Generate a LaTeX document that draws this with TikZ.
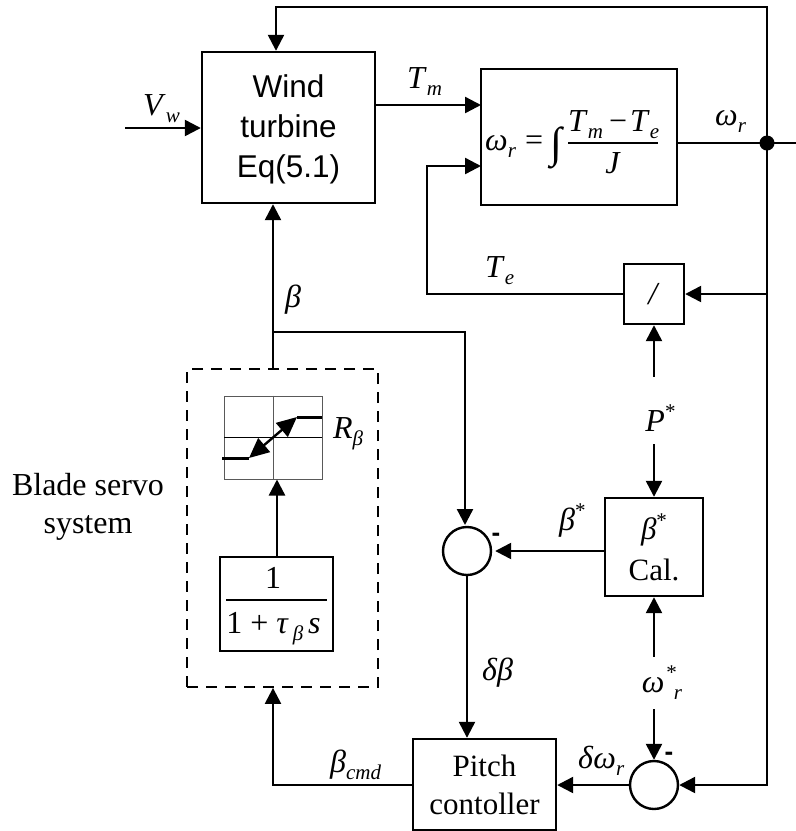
\documentclass[tikz,border=0pt]{standalone}
\usepackage{fontspec}
\setmainfont{Liberation Serif}
\newfontfamily\arialfont{Liberation Sans}
\usetikzlibrary{arrows.meta,calc}
\newcommand{\mainsz}{\fontsize{32}{38}\selectfont}
\newcommand{\subsz}{\fontsize{21}{24}\selectfont}
\newcommand{\lab}[2]{\textit{#1}\raisebox{-.22em}{\subsz\textit{#2}}}
\newcommand{\labsup}[1]{\textit{#1}\raisebox{.39em}{\subsz *}}
% width, numerator, gap to rule, denominator, gap from rule
\newcommand{\stackfrac}[5]{\vbox{\offinterlineskip\hsize=#1\hbox to #1{\hfil\smash{#2}\hfil}\kern#3\hrule height 2pt\kern#5\hbox to #1{\hfil\smash{#4}\hfil}}}
\tikzset{
  wire/.style={line width=2.4pt,line cap=butt},
  arr/.style={wire,-{Triangle[length=16pt,width=16pt]}},
  blockbox/.style={draw,line width=2.4pt,inner sep=0pt,align=center},
  sumnode/.style={draw,circle,line width=2.4pt,minimum size=48pt,inner sep=0pt},
  lbl/.style={inner sep=0pt,font=\mainsz,anchor=base west},
  minussign/.style={inner sep=0pt,font=\arialfont\bfseries\fontsize{26}{26}\selectfont}
}
\begin{document}
\begin{tikzpicture}[x=1pt,y=-1pt,font=\mainsz]
\useasboundingbox (0,0) rectangle (796,831);
% blocks
\node[blockbox,minimum width=173pt,minimum height=151pt,font=\arialfont\fontsize{31.5}{40}\selectfont] (wt) at (288.5,127.5) {\rule{0pt}{27pt}Wind\\turbine\\Eq(5.1)};
\node[blockbox,minimum width=196pt,minimum height=136pt] (wbox) at (579,137) {};
\node[lbl] (wtext) at (485,173) {\makebox[40pt][l]{\raisebox{23pt}{\lab{ω}{r}}}\makebox[25pt][l]{\raisebox{23pt}{=}}\makebox[18pt][l]{\raisebox{16pt}{\fontsize{43}{43}\selectfont ∫}}\stackfrac{90pt}{\lab{T}{m}\hspace{6pt}−\hspace{3pt}\lab{T}{e}\hspace{4pt}}{11pt}{\textit{J}}{29pt}};
\node[blockbox,minimum width=60pt,minimum height=60pt] (div) at (654,294) {\textit{/}};
\node[blockbox,minimum width=98pt,minimum height=98pt,font=\fontsize{31}{41}\selectfont] (cal) at (654,547) {\labsup{β}\\Cal.};
\node[sumnode] (sum1) at (467,551) {};
\node[sumnode] (sum2) at (654,785) {};
\node[blockbox,minimum width=143pt,minimum height=91pt,font=\fontsize{31}{38}\selectfont] (pitch) at (484.5,784.5) {Pitch\\contoller};
\node[draw,line width=1.8pt,dash pattern=on 11pt off 8pt,minimum width=191pt,minimum height=318pt,inner sep=0pt] (servo) at (282.5,528) {};
\node[draw,gray!70!black,line width=1pt,minimum width=98pt,minimum height=83pt,inner sep=0pt] (scope) at (273,437.5) {};
\node[blockbox,minimum width=113pt,minimum height=94pt] (tf) at (276.5,604) {};
\node[inner sep=0pt,anchor=base] (tftext) at (276.5,633) {\stackfrac{101pt}{1\hspace{7pt}}{11pt}{1 + \textit{τ}\hspace{4pt}\raisebox{-.22em}{\subsz\textit{β}}\hspace{5pt}\textit{s}\hspace{6pt}}{32pt}};
% junction and free ends
\node[circle,fill=black,inner sep=0pt,minimum size=15pt] (dot) at (767,143) {};
\coordinate (vwstart) at (125,128);
\coordinate (wout) at (796,143);
\coordinate (toptap) at (767,7);
\coordinate (topin) at (276,7);
\coordinate (divtap) at (767,294);
\coordinate (betatap) at (273,332);
\coordinate (betain) at (465,525);
\coordinate (tein) at (481,166);
\coordinate (tecorner) at (427,294);
\coordinate (tmin) at (481,105);
\coordinate (tfout) at (277,557);
\coordinate (s1) at (222,458);
\coordinate (s2) at (249,458);
\coordinate (s3) at (297,417);
\coordinate (s4) at (322,417);
\coordinate (g1) at (224,437);
\coordinate (g2) at (322,437);
% labels
\node[inner sep=0pt,anchor=base,text height=54pt,text depth=13pt] (pstar) at (654,431) {\hspace{13pt}\labsup{P}};
\node[inner sep=0pt,anchor=base,text height=35pt,text depth=17pt] (wstar) at (654,692) {\hspace{16pt}\textit{ω}\hspace{2pt}\raisebox{.39em}{\subsz *}\hspace{-3pt}\raisebox{-.22em}{\subsz\textit{r}}};
\node[lbl] (lvw) at (143,115) {\lab{V}{w}};
\node[lbl] (ltm) at (407,88) {\lab{T}{m}};
\node[lbl] (lwr) at (715,125) {\lab{ω}{r}};
\node[lbl] (lte) at (485,277) {\lab{T}{e}};
\node[lbl] (lb) at (285,307) {\textit{β}};
\node[lbl] (lrb) at (333,438) {\lab{R}{β}};
\node[inner sep=0pt,align=center] (lbs) at (88,506.5) {Blade servo\\system};
\node[lbl] (lbstar) at (559,530) {\labsup{β}};
\node[lbl] (ldb) at (482,680) {\textit{δβ}};
\node[lbl] (lcmd) at (330,772) {\lab{β}{cmd}};
\node[lbl] (ldw) at (578,768) {\textit{δ}\lab{ω}{r}};
\node[minussign] (m1) at (496,537) {-};
\node[minussign] (m2) at (669,756) {-};
% connectors
\draw[arr] (vwstart) -- (wt.west |- vwstart);
\draw[arr] (wt.east |- tmin) -- (tmin);
\draw[wire] (wbox.east |- dot) -- (dot.center) -- (wout);
\draw[arr] (dot.center) -- (toptap) -- (topin) -- (topin |- wt.north);
\draw[arr] (dot.center) |- (sum2.east);
\draw[arr] (divtap) -- (div.east);
\draw[arr] (div.west) -| (tecorner) |- (tein);
\draw[arr] (pstar.north) -- (div.south);
\draw[arr] (pstar.south) -- (cal.north);
\draw[arr] (wstar.north) -- (cal.south);
\draw[arr] (wstar.south) -- (sum2.north);
\draw[arr,shorten >=3pt] (cal.west |- sum1) -- (sum1.east);
\draw[arr] (sum1.south) -- (sum1.south |- pitch.north);
\draw[arr] (sum2.west) -- (pitch.east |- sum2);
\draw[arr] (pitch.west |- sum2) -| (betatap |- servo.south);
\draw[arr] (betatap |- servo.north) -- (betatap |- wt.south);
\draw[arr] (betatap) -| (betain);
\draw[arr] (tfout) -- (tfout |- scope.south);
% saturation curve inside the scope
\draw[line width=1pt,gray!70!black] (scope.north) -- (scope.south);
\draw[line width=1pt] (g1) -- (g2);
\draw[line width=3pt] (s1) -- (s2);
\draw[line width=3pt] (s3) -- (s4);
\draw[line width=2.4pt,{Triangle[length=20pt,width=18pt]}-{Triangle[length=20pt,width=18pt]}] (s2) -- (s3);
\end{tikzpicture}
\end{document}
